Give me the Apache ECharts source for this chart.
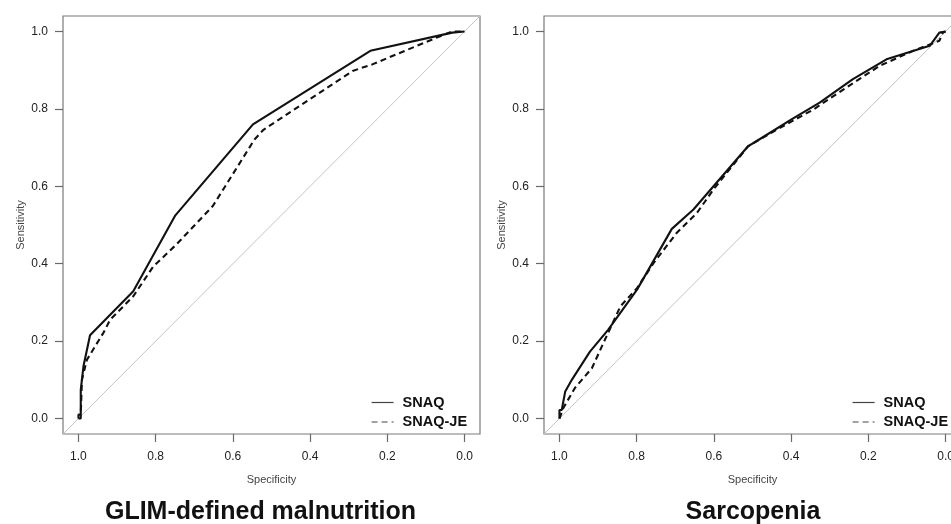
<!DOCTYPE html>
<html>
<head>
<meta charset="utf-8">
<script src="https://cdn.jsdelivr.net/npm/echarts@6/dist/echarts.min.js"></script>
<style>
  html, body { margin: 0; padding: 0; background: #fff; }
  #chart { width: 951px; height: 524px; }
</style>
</head>
<body>
<div id="chart"></div>
<script>
// ---- Data: [specificity, sensitivity] ----
const tickValues = [0, 0.2, 0.4, 0.6, 0.8, 1.0];
const panelTitles = ['GLIM-defined malnutrition', 'Sarcopenia'];
const seriesNames = ['SNAQ', 'SNAQ-JE'];
const diagonal = [[1.04, -0.04], [-0.04, 1.04]];

const glimSNAQ = [
  [1.0, 0.0], [1.0, 0.01], [0.994, 0.01], [0.994, 0.074], [0.987, 0.135],
  [0.970, 0.215], [0.858, 0.329], [0.749, 0.525], [0.548, 0.760],
  [0.244, 0.950], [0.032, 0.997], [0.0, 1.0]
];
const glimSNAQJE = [
  [1.0, 0.0], [0.994, 0.0], [0.994, 0.01], [0.991, 0.10], [0.978, 0.152],
  [0.935, 0.222], [0.918, 0.255], [0.858, 0.316], [0.806, 0.393],
  [0.746, 0.450], [0.652, 0.549], [0.544, 0.721], [0.522, 0.745],
  [0.290, 0.898], [0.239, 0.915], [0.075, 0.983], [0.032, 1.0], [0.0, 1.0]
];
const sarcSNAQ = [
  [1.0, 0.0], [1.0, 0.022], [0.994, 0.022], [0.985, 0.070], [0.968, 0.100],
  [0.921, 0.173], [0.874, 0.229], [0.799, 0.333], [0.709, 0.490],
  [0.653, 0.540], [0.601, 0.600], [0.511, 0.704], [0.489, 0.717],
  [0.399, 0.773], [0.326, 0.816], [0.240, 0.877], [0.153, 0.928],
  [0.041, 0.963], [0.016, 0.997], [0.0, 1.0]
];
const sarcSNAQJE = [
  [1.0, 0.0], [0.990, 0.027], [0.960, 0.079], [0.916, 0.130], [0.882, 0.204],
  [0.842, 0.290], [0.799, 0.337], [0.756, 0.402], [0.696, 0.480],
  [0.644, 0.531], [0.601, 0.592], [0.511, 0.704], [0.429, 0.751],
  [0.343, 0.798], [0.257, 0.855], [0.171, 0.911], [0.084, 0.950],
  [0.016, 0.976], [0.007, 0.997], [0.0, 1.0]
];

const panels = [
  { snaq: glimSNAQ, snaqje: glimSNAQJE },
  { snaq: sarcSNAQ, snaqje: sarcSNAQJE }
];

const font = 'Liberation Sans, Arial, Helvetica, sans-serif';
const gridLefts = [63, 544];
const chart = echarts.init(document.getElementById('chart'), null, { renderer: 'canvas' });

const grids = [], xAxes = [], yAxes = [], series = [], legends = [], graphics = [];
panels.forEach((p, i) => {
  grids.push({
    left: gridLefts[i], top: 16, width: 417, height: 418,
    containLabel: false, outerBoundsMode: 'none',
    show: true, borderColor: '#7a7a7a', borderWidth: 1.2, backgroundColor: 'transparent'
  });
  xAxes.push({
    gridIndex: i, type: 'value', inverse: true, min: -0.04, max: 1.04, position: 'bottom',
    name: 'Specificity', nameLocation: 'middle', nameGap: 40,
    nameTextStyle: { fontFamily: font, fontSize: 11, color: '#444' },
    axisLine: { show: false, onZero: false },
    axisTick: { show: true, inside: false, customValues: tickValues, length: 8, lineStyle: { color: '#6a6a6a', width: 1.2 } },
    axisLabel: { customValues: tickValues, formatter: v => v.toFixed(1), margin: 17,
      fontFamily: font, fontSize: 12, color: '#222' },
    splitLine: { show: false }
  });
  yAxes.push({
    gridIndex: i, type: 'value', min: -0.04, max: 1.04, position: 'left',
    name: 'Sensitivity', nameLocation: 'middle', nameGap: 37,
    nameTextStyle: { fontFamily: font, fontSize: 11, color: '#444' },
    axisLine: { show: false, onZero: false },
    axisTick: { show: true, inside: false, customValues: tickValues, length: 8, lineStyle: { color: '#6a6a6a', width: 1.2 } },
    axisLabel: { customValues: tickValues, formatter: v => v.toFixed(1), margin: 15,
      fontFamily: font, fontSize: 12, color: '#222' },
    splitLine: { show: false }
  });
  series.push({
    type: 'line', xAxisIndex: i, yAxisIndex: i, data: diagonal, symbol: 'none',
    lineStyle: { color: '#c4c4c4', width: 1 }, silent: true, animation: false, z: 1
  });
  series.push({
    name: seriesNames[0], type: 'line', xAxisIndex: i, yAxisIndex: i, data: p.snaq,
    symbol: 'none', itemStyle: { color: '#111' },
    lineStyle: { color: '#111', width: 2.1 }, animation: false, z: 3
  });
  series.push({
    name: seriesNames[1], type: 'line', xAxisIndex: i, yAxisIndex: i, data: p.snaqje,
    symbol: 'none', itemStyle: { color: '#111' },
    lineStyle: { color: '#111', width: 2.1, type: [6, 4] }, animation: false, z: 2
  });
  legends.push({
    data: seriesNames, orient: 'vertical', left: [371, 852][i], top: 395, padding: 0,
    itemWidth: 22, itemHeight: 14, itemGap: 4.5, selectedMode: false,
    itemStyle: { opacity: 0 },
    lineStyle: { width: 1.2, color: '#444' },
    textStyle: { fontFamily: font, fontSize: 14.5, fontWeight: 'bold', color: '#111', padding: [0, 0, 0, 4] }
  });
  graphics.push({
    type: 'text', x: [260.5, 753][i], y: 512,
    style: { text: panelTitles[i], fill: '#111', font: 'bold 25px ' + font,
      textAlign: 'center', textVerticalAlign: 'middle' }
  });
});

chart.setOption({
  backgroundColor: '#fff',
  animation: false,
  grid: grids, xAxis: xAxes, yAxis: yAxes, series: series,
  legend: legends, graphic: graphics
});
</script>
</body>
</html>
